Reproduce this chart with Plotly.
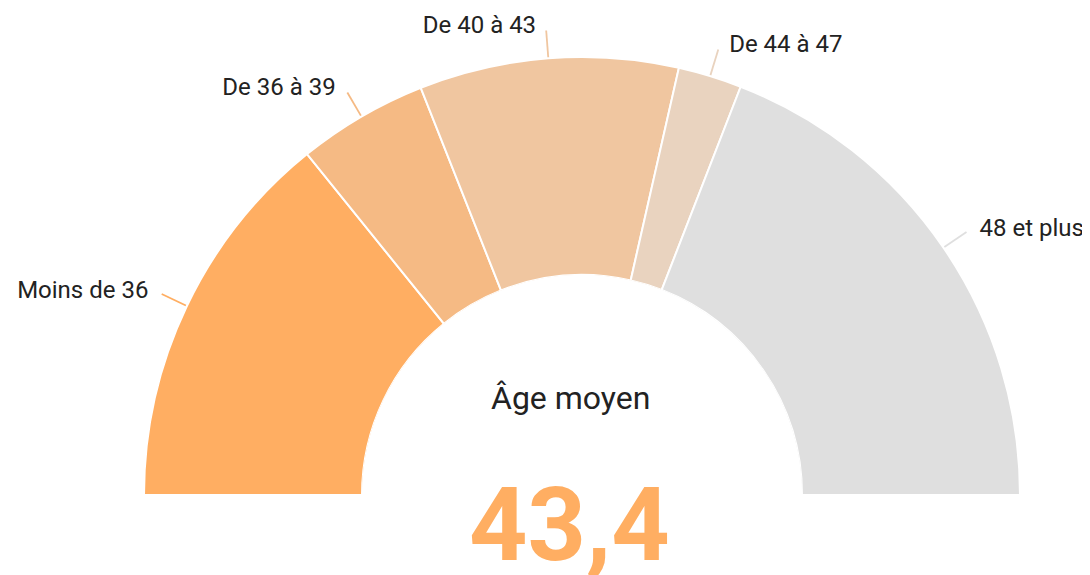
import plotly.graph_objects as go

categories = ["Moins de 36", "De 36 à 39", "De 40 à 43", "De 44 à 47", "48 et plus"]
shares = [28.4, 9.6, 19.1, 4.7, 38.2]
colors = ["#FFAE62", "#F5BA84", "#F0C6A0", "#E9D3BF", "#DFDFDF"]
center_title = "Âge moyen"
center_value = "43,4"

W, H = 1082, 567  # page body has an 8px margin
total = sum(shares)
widths = [s / total * 180 for s in shares]
mids = []
acc = 0
for w in widths:
    mids.append(acc + w / 2)
    acc += w

fig = go.Figure()
fig.add_trace(go.Barpolar(
    r=[1] * len(categories), theta=mids, width=widths,
    marker=dict(color=colors, line=dict(color="white", width=2)),
    hoverinfo="skip", showlegend=False,
))

LINE_IN, LINE_OUT, LABEL_R = 1.005, 1.128, 1.146
for cat, m, c in zip(categories, mids, colors):
    fig.add_trace(go.Scatterpolar(
        r=[LINE_IN, LINE_OUT], theta=[m, m], mode="lines",
        line=dict(color=c, width=1.8), hoverinfo="skip", showlegend=False,
        cliponaxis=False,
    ))
    fig.add_trace(go.Scatterpolar(
        r=[LABEL_R], theta=[m], mode="markers+text", text=[cat],
        marker=dict(size=14, opacity=0),
        textposition="middle left" if m < 90 else "middle right",
        textfont=dict(family="Roboto", size=24, color="#222222"),
        hoverinfo="skip", showlegend=False, cliponaxis=False,
    ))

cx, cy, R = 574, 487, 470
fig.update_layout(
    width=W, height=H,
    margin=dict(l=0, r=0, t=0, b=0),
    paper_bgcolor="white", plot_bgcolor="white",
    font=dict(family="Roboto"),
    polar=dict(
        domain=dict(x=[(cx - R) / W, (cx + R) / W], y=[(H - cy) / H, (H - cy + R) / H]),
        sector=[0, 180], hole=220 / 470,
        bgcolor="rgba(0,0,0,0)",
        radialaxis=dict(range=[0, 1.1468], visible=False, showgrid=False),
        angularaxis=dict(rotation=180, direction="clockwise", visible=False,
                         showgrid=False),
    ),
    annotations=[
        dict(text=center_title, x=562 / W, y=1 - 390 / H, xref="paper", yref="paper",
             showarrow=False, font=dict(family="Roboto", size=32, color="#222222"),
             xanchor="center", yanchor="middle"),
        dict(text="<b>" + center_value + "</b>", x=561 / W, y=1 - 517 / H,
             xref="paper", yref="paper", showarrow=False,
             font=dict(family="Roboto", size=102, color="#FFAE62"),
             xanchor="center", yanchor="middle"),
    ],
)

fig.write_html("out.html")
